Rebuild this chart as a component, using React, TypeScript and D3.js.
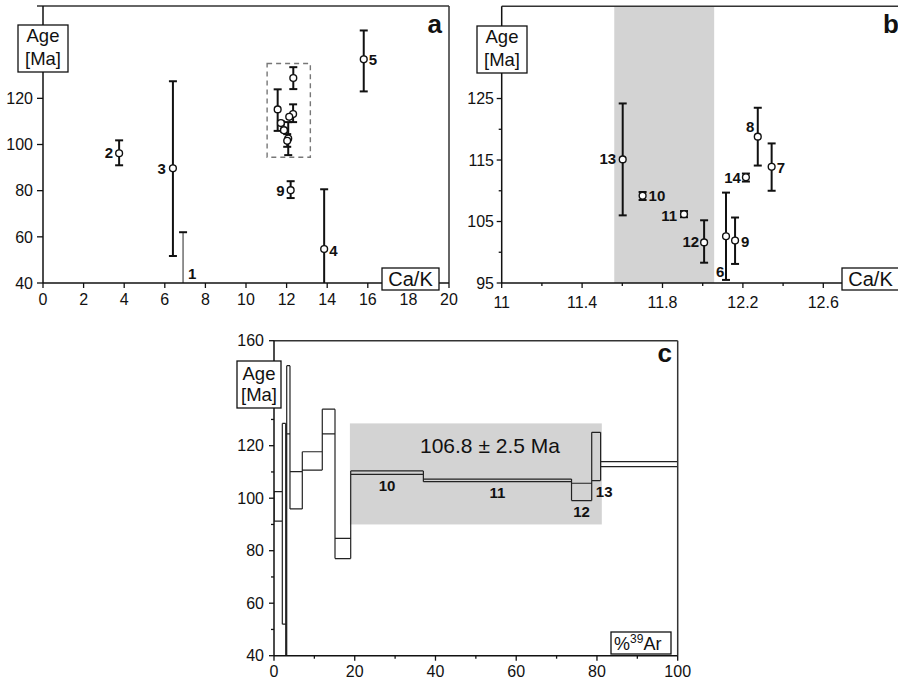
import React from "react";
import * as d3 from "d3";

const FONT = '"Liberation Sans", Arial, Helvetica, sans-serif';

// ---------- Panel a : Ca/K vs Age ----------
const aIds = ["1", "2", "3", "4", "5", "9", "", "", "", "", "", "", "", ""];
const aCaK = [6.9, 3.75, 6.4, 13.85, 15.8, 12.2, 11.56, 12.33, 12.32, 12.13, 11.72, 11.87, 12.08, 12.03];
const aAge: (number | null)[] = [null, 96.2, 89.7, 54.7, 136.9, 80.2, 115.2, 128.8, 113.2, 112, 109.3, 106.2, 102.6, 101.6];
const aLow = [40, 91, 51.7, 40, 123, 76.8, 105.9, 124, 109.7, 112, 108.6, 105.6, 95.4, 99];
const aHigh = [62, 101.8, 127.4, 80.6, 149.4, 84.1, 123.9, 133.5, 117.4, 112, 110, 106.8, 109.7, 104.5];
const aXTicks = [0, 2, 4, 6, 8, 10, 12, 14, 16, 18, 20];
const aYTicks = [40, 60, 80, 100, 120, 140, 160];
const aYTickLabels = [40, 60, 80, 100, 120];
const aCluster = [11.04, 13.17, 94.5, 135.1]; // dashed box: x0, x1, age0, age1

// label layout (dx, dy) for panel a
const aLblDx = [5, -6, -7, 5, 5, -6, 0, 0, 0, 0, 0, 0, 0, 0];
const aLblDy = [-4, 5, 6, 7, 6, 6, 0, 0, 0, 0, 0, 0, 0, 0];

// ---------- Panel b : zoom ----------
const bIds = ["13", "10", "11", "12", "6", "9", "14", "7", "8"];
const bCaK = [11.602, 11.701, 11.907, 12.007, 12.116, 12.161, 12.215, 12.343, 12.274];
const bAge = [115.1, 109.2, 106.2, 101.6, 102.6, 101.9, 112.2, 113.9, 118.8];
const bLow = [106, 108.5, 105.7, 98.3, 95.5, 98.1, 111.5, 110, 114.1];
const bHigh = [124.2, 109.8, 106.7, 105.2, 109.7, 105.65, 112.8, 117.7, 123.5];
const bBand = [11.56, 12.057];
const bXMajor = [11, 11.4, 11.8, 12.2, 12.6];
const bXMinor = [11.2, 11.6, 12.0, 12.4, 12.8];
const bYMajor = [95, 105, 115, 125, 135];
const bYMinor = [100, 110, 120, 130];
const bYTickLabels = [95, 105, 115, 125];

const bLblDx = [-6.5, 6, -7, -5, -10, 6, -5, 5, -3.5];
const bLblDy = [5, 5.5, 6.5, 5, 41, 6, 6, 6.5, -5];
const bLblAnchor = ["end", "start", "end", "end", "start", "start", "end", "start", "end"];

// ---------- Panel c : age spectrum ----------
const cEdges = [0, 2.06, 2.9, 3.15, 3.96, 7.01, 11.96, 15.11, 19.0, 37.0, 73.7, 78.7, 80.9, 100];
const cLow = [91.3, 52, 38, 124.5, 95.9, 110.7, 124.5, 77.0, 109.1, 106.3, 99.1, 106.7, 112.0];
const cHigh = [102.5, 128.5, 81.3, 150.5, 110.1, 117.7, 133.9, 84.7, 110.4, 107.3, 105.7, 125.1, 113.9];
const cStepLabels = ["", "", "", "", "", "", "", "", "10", "11", "12", "13", ""];
const cLblDx = [0, 0, 0, 0, 0, 0, 0, 0, 0, 0, 0, 8, 0];
const cPlateau = [18.8, 81.2, 90, 128.5];
const cPlateauText = "106.8 ± 2.5 Ma";
const cXMajor = [0, 20, 40, 60, 80, 100];
const cXMinor = [10, 30, 50, 70, 90];
const cYMajor = [40, 60, 80, 100, 120, 140, 160];
const cYTickLabels = [40, 60, 80, 100, 120, 160];
const cYMinor = [50, 70, 90, 110, 130, 150];

const INK = "#111";
const FRAME = "#333";
const GREY = "#d3d3d3";

function LabelBox({ x, y, w, h, children }: any) {
  return (
    <g>
      <rect x={x} y={y} width={w} height={h} fill="#fff" stroke={INK} strokeWidth={1.3} />
      {children}
    </g>
  );
}

function AgeBox({ x, y, w, h, b1, b2 }: any) {
  return (
    <LabelBox x={x} y={y} w={w} h={h}>
      <text x={x + w / 2} y={b1} textAnchor="middle" fontSize={18.5} fill={INK}>Age</text>
      <text x={x + w / 2} y={b2} textAnchor="middle" fontSize={18.5} fill={INK}>[Ma]</text>
    </LabelBox>
  );
}

function ErrorBar({ x, yLo, yHi, capLo, capHi, color = INK, width = 2 }: any) {
  const cw = 4;
  return (
    <g>
      <line x1={x} x2={x} y1={yLo} y2={yHi} stroke={color} strokeWidth={width} />
      {capHi && <line x1={x - cw} x2={x + cw} y1={yHi} y2={yHi} stroke={INK} strokeWidth={2} />}
      {capLo && <line x1={x - cw} x2={x + cw} y1={yLo} y2={yLo} stroke={INK} strokeWidth={2} />}
    </g>
  );
}

export default function App() {
  const ax = d3.scaleLinear().domain([0, 20]).range([43, 449]);
  const ay = d3.scaleLinear().domain([40, 160]).range([283, 6]);
  const bx = d3.scaleLinear().domain([11, 13]).range([501.7, 903.7]);
  const by = d3.scaleLinear().domain([95, 140]).range([283, 6.3]);
  const cx = d3.scaleLinear().domain([0, 100]).range([274, 677.7]);
  const cy = d3.scaleLinear().domain([40, 160]).range([655.7, 340.7]);

  // ----- panel a -----
  const aX0 = ax.range()[0], aX1 = ax.range()[1];
  const aY0 = ay.range()[0], aY1 = ay.range()[1];
  const panelA = (
    <g>
      <line x1={aX0} x2={aX1} y1={aY1} y2={aY1} stroke={FRAME} strokeWidth={1.5} />
      <line x1={aX1} x2={aX1} y1={aY1} y2={aY0} stroke={FRAME} strokeWidth={1.5} />
      <rect
        x={ax(aCluster[0])}
        y={ay(aCluster[3])}
        width={ax(aCluster[1]) - ax(aCluster[0])}
        height={ay(aCluster[2]) - ay(aCluster[3])}
        fill="none"
        stroke="#777"
        strokeWidth={1.4}
        strokeDasharray="5,4"
      />
      {aCaK.map((v, i) => {
        const x = ax(v);
        const lo = aLow[i], hi = aHigh[i];
        if (hi - lo < 0.01) return null;
        return (
          <ErrorBar
            key={"ae" + i}
            x={x}
            yLo={ay(lo)}
            yHi={ay(hi)}
            capLo={lo > 40}
            capHi={true}
            color={i === 0 ? "#777" : INK}
            width={i === 0 ? 1.6 : 2}
          />
        );
      })}
      {aCaK.map((v, i) =>
        aAge[i] == null ? null : (
          <circle key={"ac" + i} cx={ax(v)} cy={ay(aAge[i] as number)} r={3.4} fill="#fff" stroke={INK} strokeWidth={1.4} />
        )
      )}
      {aIds.map((id, i) => {
        if (!id) return null;
        const refY = aAge[i] == null ? ay(aLow[i]) : ay(aAge[i] as number);
        return (
          <text
            key={"al" + i}
            x={ax(aCaK[i]) + aLblDx[i]}
            y={refY + aLblDy[i]}
            textAnchor={aLblDx[i] < 0 ? "end" : "start"}
            fontSize={15}
            fontWeight="bold"
            fill={INK}
          >
            {id}
          </text>
        );
      })}
      <line x1={aX0} x2={aX1} y1={aY0} y2={aY0} stroke={INK} strokeWidth={1.5} />
      <line x1={aX0} x2={aX0} y1={aY1} y2={aY0} stroke={INK} strokeWidth={1.5} />
      {aXTicks.map((t) => (
        <g key={"axt" + t}>
          <line x1={ax(t)} x2={ax(t)} y1={aY0} y2={aY0 + 5} stroke={INK} strokeWidth={1.3} />
          <text x={ax(t)} y={305} textAnchor="middle" fontSize={16} fill={INK}>{t}</text>
        </g>
      ))}
      {aYTicks.map((t) => (
        <line key={"ayt" + t} x1={aX0 - 6} x2={aX0} y1={ay(t)} y2={ay(t)} stroke={INK} strokeWidth={1.3} />
      ))}
      {aYTickLabels.map((t) => (
        <text key={"ayl" + t} x={33} y={ay(t)} dy="0.36em" textAnchor="end" fontSize={16} fill={INK}>{t}</text>
      ))}
      <AgeBox x={18} y={25} w={50} h={47} b1={42} b2={65} />
      <LabelBox x={382} y={268} w={57} h={22}>
        <text x={410.5} y={286} textAnchor="middle" fontSize={20} fill={INK}>Ca/K</text>
      </LabelBox>
      <text x={442} y={33} textAnchor="end" fontSize={26} fontWeight="bold" fill={INK}>a</text>
    </g>
  );

  // ----- panel b -----
  const bX0 = bx.range()[0], bX1 = bx.range()[1];
  const bY0 = by.range()[0], bY1 = by.range()[1];
  const panelB = (
    <g>
      <rect x={bx(bBand[0])} y={bY1} width={bx(bBand[1]) - bx(bBand[0])} height={bY0 - bY1} fill={GREY} />
      <line x1={bX0} x2={bX1} y1={bY1} y2={bY1} stroke={FRAME} strokeWidth={1.5} />
      <line x1={bX1} x2={bX1} y1={bY1} y2={bY0} stroke={FRAME} strokeWidth={1.5} />
      {bCaK.map((v, i) => (
        <ErrorBar key={"be" + i} x={bx(v)} yLo={by(bLow[i])} yHi={by(bHigh[i])} capLo={true} capHi={true} />
      ))}
      {bCaK.map((v, i) => (
        <circle key={"bc" + i} cx={bx(v)} cy={by(bAge[i])} r={3.4} fill="#fff" stroke={INK} strokeWidth={1.4} />
      ))}
      {bIds.map((id, i) => (
        <text
          key={"bl" + i}
          x={bx(bCaK[i]) + bLblDx[i]}
          y={by(bAge[i]) + bLblDy[i]}
          textAnchor={bLblAnchor[i] as any}
          fontSize={15}
          fontWeight="bold"
          fill={INK}
        >
          {id}
        </text>
      ))}
      <line x1={bX0} x2={bX1} y1={bY0} y2={bY0} stroke={INK} strokeWidth={1.5} />
      <line x1={bX0} x2={bX0} y1={bY1} y2={bY0} stroke={INK} strokeWidth={1.5} />
      {bXMajor.map((t) => (
        <g key={"bxt" + t}>
          <line x1={bx(t)} x2={bx(t)} y1={bY0} y2={bY0 + 5} stroke={INK} strokeWidth={1.3} />
          <text x={bx(t)} y={308} textAnchor="middle" fontSize={16} fill={INK}>{d3.format("~g")(t)}</text>
        </g>
      ))}
      {bXMinor.map((t) => (
        <line key={"bxm" + t} x1={bx(t)} x2={bx(t)} y1={bY0} y2={bY0 + 3} stroke={INK} strokeWidth={1.3} />
      ))}
      {bYMajor.map((t) => (
        <line key={"byt" + t} x1={bX0 - 5} x2={bX0} y1={by(t)} y2={by(t)} stroke={INK} strokeWidth={1.3} />
      ))}
      {bYMinor.map((t) => (
        <line key={"bym" + t} x1={bX0 - 3} x2={bX0} y1={by(t)} y2={by(t)} stroke={INK} strokeWidth={1.3} />
      ))}
      {bYTickLabels.map((t) => (
        <text key={"byl" + t} x={494} y={by(t)} dy="0.36em" textAnchor="end" fontSize={16} fill={INK}>{t}</text>
      ))}
      <AgeBox x={477} y={26} w={50} h={47} b1={43} b2={66} />
      <LabelBox x={842} y={268} w={57} h={22}>
        <text x={870.5} y={286} textAnchor="middle" fontSize={20} fill={INK}>Ca/K</text>
      </LabelBox>
      <text x={899} y={33} textAnchor="end" fontSize={26} fontWeight="bold" fill={INK}>b</text>
    </g>
  );

  // ----- panel c -----
  const cX0 = cx.range()[0], cX1 = cx.range()[1];
  const cY0 = cy.range()[0], cY1 = cy.range()[1];
  const n = cLow.length;
  const segs: string[] = [];
  for (let i = 0; i < n; i++) {
    const x0 = cx(cEdges[i]), x1 = cx(cEdges[i + 1]);
    segs.push(`M${x0},${cy(cLow[i])}H${x1}`);
    segs.push(`M${x0},${cy(cHigh[i])}H${x1}`);
    if (i === 0) {
      segs.push(`M${x0},${cy(cLow[i])}V${cy(cHigh[i])}`);
    } else {
      const lo = Math.min(cLow[i], cLow[i - 1]);
      const hi = Math.max(cHigh[i], cHigh[i - 1]);
      segs.push(`M${x0},${cy(lo)}V${cy(hi)}`);
    }
    if (i === n - 1) segs.push(`M${x1},${cy(cLow[i])}V${cy(cHigh[i])}`);
  }
  const panelC = (
    <g>
      <defs>
        <clipPath id="cclip">
          <rect x={cX0} y={cY1} width={cX1 - cX0} height={cY0 - cY1} />
        </clipPath>
      </defs>
      <rect
        x={cx(cPlateau[0])}
        y={cy(cPlateau[3])}
        width={cx(cPlateau[1]) - cx(cPlateau[0])}
        height={cy(cPlateau[2]) - cy(cPlateau[3])}
        fill={GREY}
      />
      <text x={420} y={452.5} fontSize={21} fill={INK}>{cPlateauText}</text>
      <path d={segs.join("")} fill="none" stroke="#222" strokeWidth={1.2} clipPath="url(#cclip)" />
      {cStepLabels.map((lbl, i) =>
        lbl ? (
          <text
            key={"cl" + i}
            x={(cx(cEdges[i]) + cx(cEdges[i + 1])) / 2 + cLblDx[i]}
            y={cy(cLow[i]) + 16.5}
            textAnchor="middle"
            fontSize={15}
            fontWeight="bold"
            fill={INK}
          >
            {lbl}
          </text>
        ) : null
      )}
      <line x1={cX0} x2={cX1} y1={cY1} y2={cY1} stroke={FRAME} strokeWidth={1.5} />
      <line x1={cX1} x2={cX1} y1={cY1} y2={cY0} stroke={FRAME} strokeWidth={1.5} />
      <line x1={cX0} x2={cX1} y1={cY0} y2={cY0} stroke={INK} strokeWidth={1.5} />
      <line x1={cX0} x2={cX0} y1={cY1} y2={cY0} stroke={INK} strokeWidth={1.5} />
      {cXMajor.map((t) => (
        <g key={"cxt" + t}>
          <line x1={cx(t)} x2={cx(t)} y1={cY0} y2={cY0 + 5} stroke={INK} strokeWidth={1.3} />
          <text x={cx(t)} y={677} textAnchor="middle" fontSize={16} fill={INK}>{t}</text>
        </g>
      ))}
      {cXMinor.map((t) => (
        <line key={"cxm" + t} x1={cx(t)} x2={cx(t)} y1={cY0} y2={cY0 + 3} stroke={INK} strokeWidth={1.3} />
      ))}
      {cYMajor.map((t) => (
        <line key={"cyt" + t} x1={cX0 - 5} x2={cX0} y1={cy(t)} y2={cy(t)} stroke={INK} strokeWidth={1.3} />
      ))}
      {cYTickLabels.map((t) => (
        <text key={"cyl" + t} x={264} y={cy(t)} dy="0.36em" textAnchor="end" fontSize={16} fill={INK}>{t}</text>
      ))}
      {cYMinor.map((t) => (
        <line key={"cym" + t} x1={cX0 - 3} x2={cX0} y1={cy(t)} y2={cy(t)} stroke={INK} strokeWidth={1.3} />
      ))}
      <AgeBox x={237} y={361} w={44} h={47} b1={379.5} b2={401} />
      <LabelBox x={611} y={632} w={60} h={22}>
        <text x={614} y={650} fontSize={18} fill={INK}>
          %<tspan fontSize={12} dy={-7}>39</tspan>
          <tspan dy={7}>Ar</tspan>
        </text>
      </LabelBox>
      <text x={672} y={362} textAnchor="end" fontSize={26} fontWeight="bold" fill={INK}>c</text>
    </g>
  );

  return (
    <svg
      width={898}
      height={681}
      viewBox="0 0 898 681"
      style={{ position: "absolute", left: 0, top: 0, background: "#fff", fontFamily: FONT }}
    >
      <rect x={0} y={0} width={898} height={681} fill="#fff" />
      {panelA}
      {panelB}
      {panelC}
    </svg>
  );
}
